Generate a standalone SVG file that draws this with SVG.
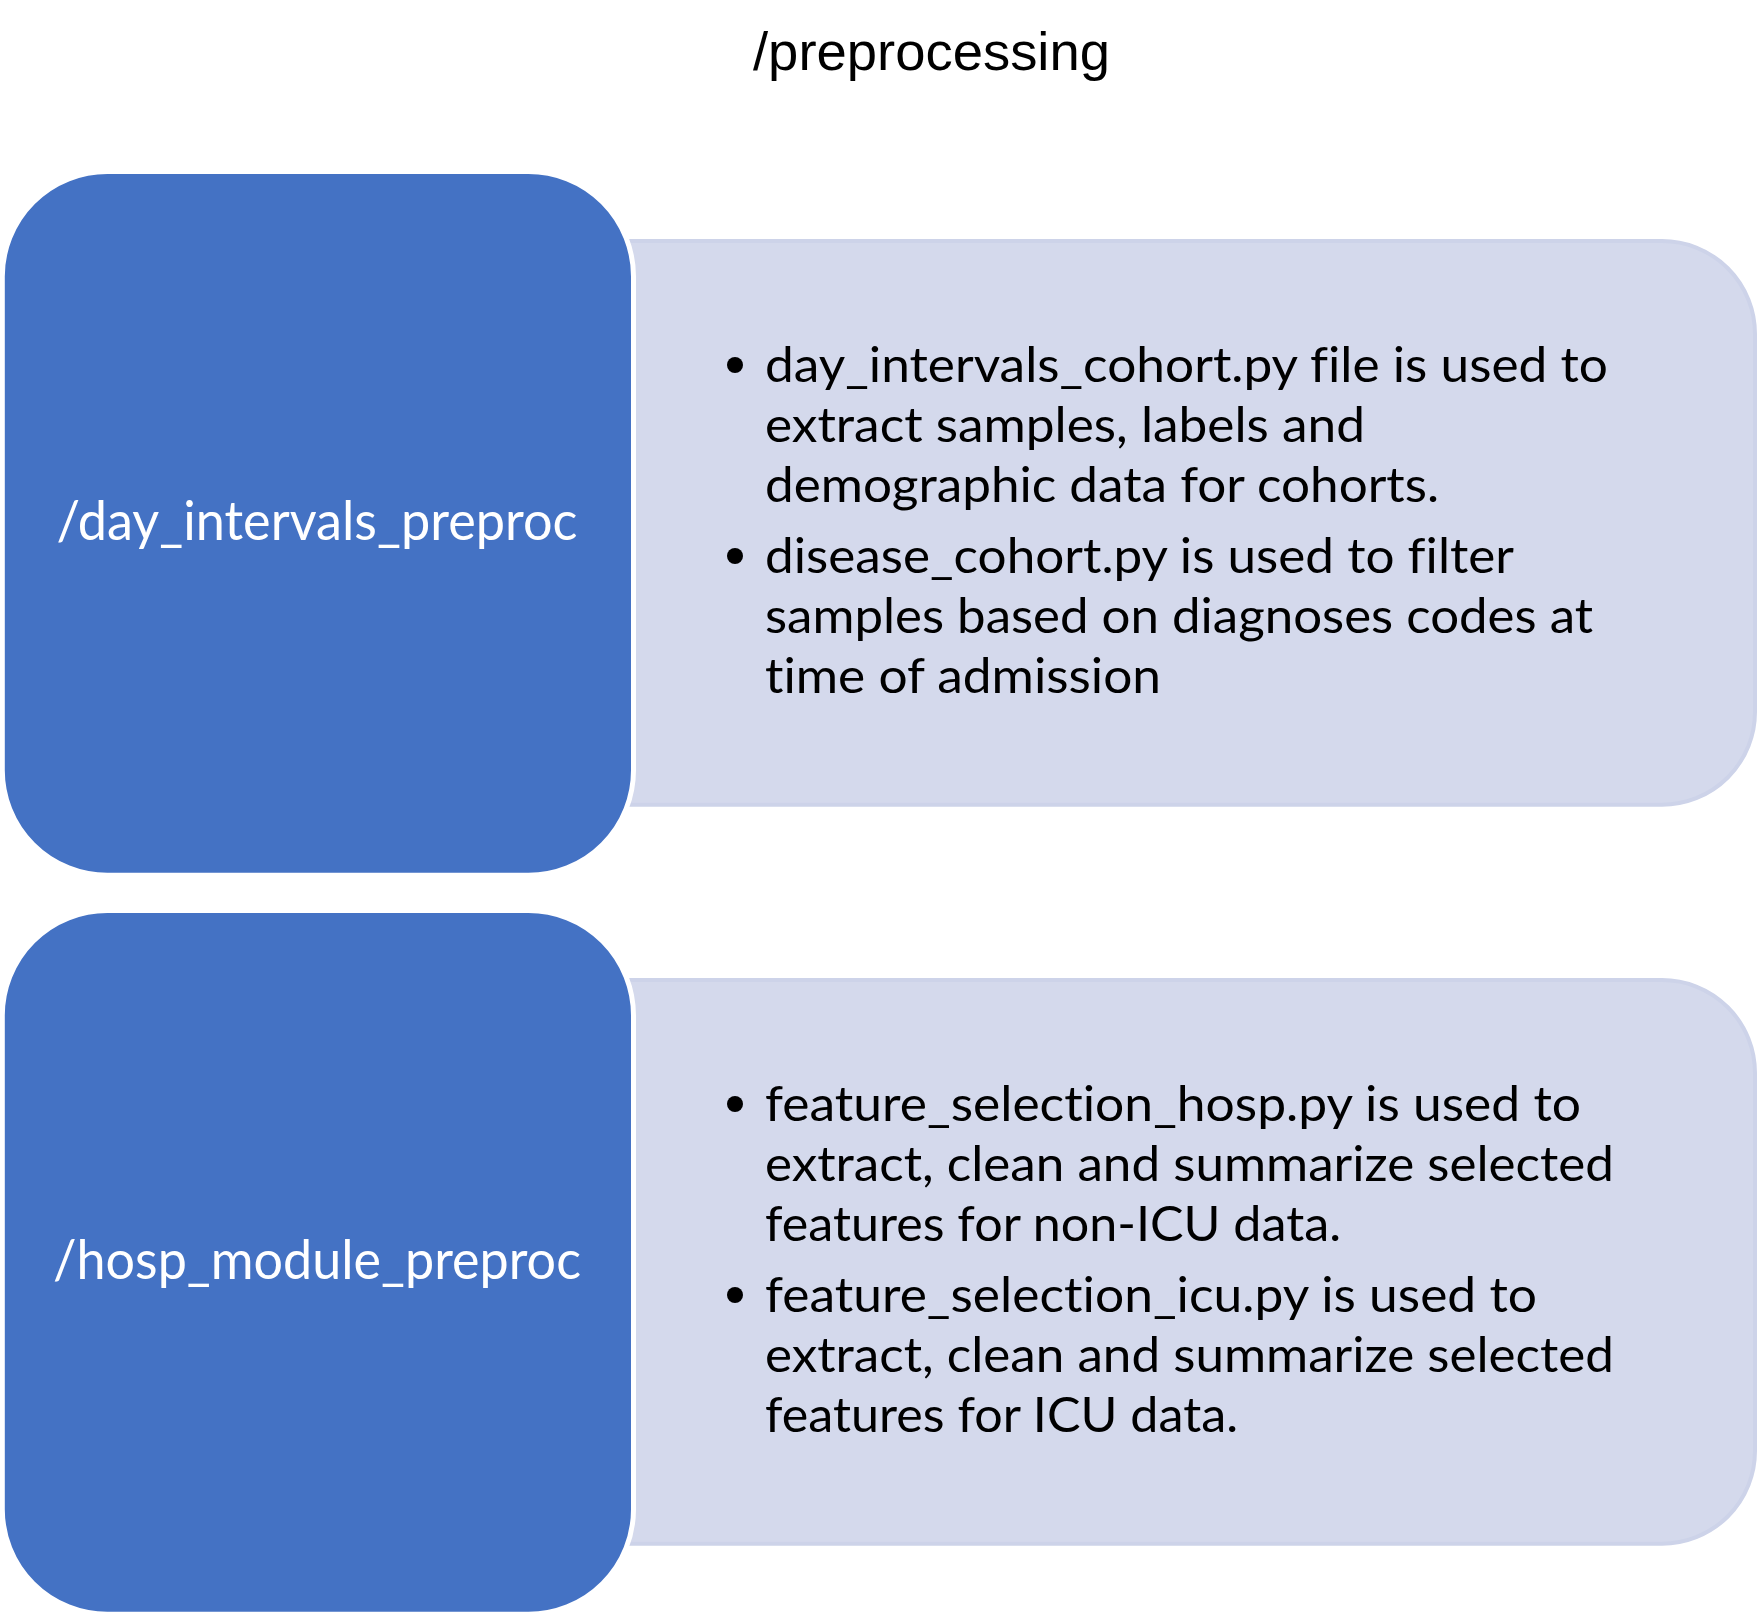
<svg xmlns="http://www.w3.org/2000/svg" width="1758" height="1617" viewBox="0 0 1758 1617">
<style>
.blue{fill:#4472C4;stroke:#FFFFFF;stroke-width:5}
.light{fill:#D4D9EC;stroke:#CDD3E9;stroke-width:4}
.lbl{font-family:Lato,"Noto Sans",sans-serif;font-size:55px;fill:#FFFFFF;font-variant-ligatures:none}
.body{font-family:Lato,"Noto Sans",sans-serif;font-size:49px;fill:#000000;font-variant-ligatures:none}
.title{font-family:"Liberation Sans",Arial,sans-serif;font-size:54px;fill:#000000}
</style>
<rect width="1758" height="1617" fill="#FFFFFF"/>
<g id="title"><text class="title" x="753" y="70" textLength="357" lengthAdjust="spacingAndGlyphs">/preprocessing</text></g>
<g id="connectors"></g>
<g id="detail1">
<path class="light" d="M620 241 H1662 A93 93 0 0 1 1755 334 V711.7 A93 93 0 0 1 1662 804.7 H620 Z"/>
<circle cx="735" cy="365" r="8"/>
<circle cx="735" cy="556" r="8"/>
<text class="body" x="765" y="382" textLength="843" lengthAdjust="spacingAndGlyphs">day_intervals_cohort.py file is used to</text>
<text class="body" x="765" y="442" textLength="600" lengthAdjust="spacingAndGlyphs">extract samples, labels and</text>
<text class="body" x="765" y="502" textLength="674" lengthAdjust="spacingAndGlyphs">demographic data for cohorts.</text>
<text class="body" x="765" y="573" textLength="749" lengthAdjust="spacingAndGlyphs">disease_cohort.py is used to filter</text>
<text class="body" x="765" y="633" textLength="828" lengthAdjust="spacingAndGlyphs">samples based on diagnoses codes at</text>
<text class="body" x="765" y="693" textLength="396" lengthAdjust="spacingAndGlyphs">time of admission</text>
</g>
<g id="node1">
<rect class="blue" x="2.3" y="171.5" width="631.2" height="703.7" rx="105" ry="105"/>
<text class="lbl" x="317" y="540" text-anchor="middle" textLength="521" lengthAdjust="spacingAndGlyphs">/day_intervals_preproc</text>
</g>
<g id="detail2">
<path class="light" d="M620 980 H1662 A93 93 0 0 1 1755 1073 V1450.7 A93 93 0 0 1 1662 1543.7 H620 Z"/>
<circle cx="735" cy="1104" r="8"/>
<circle cx="735" cy="1295" r="8"/>
<text class="body" x="765" y="1121" textLength="816" lengthAdjust="spacingAndGlyphs">feature_selection_hosp.py is used to</text>
<text class="body" x="765" y="1181" textLength="849" lengthAdjust="spacingAndGlyphs">extract, clean and summarize selected</text>
<text class="body" x="765" y="1241" textLength="576" lengthAdjust="spacingAndGlyphs">features for non-ICU data.</text>
<text class="body" x="765" y="1312" textLength="772" lengthAdjust="spacingAndGlyphs">feature_selection_icu.py is used to</text>
<text class="body" x="765" y="1372" textLength="849" lengthAdjust="spacingAndGlyphs">extract, clean and summarize selected</text>
<text class="body" x="765" y="1432" textLength="473" lengthAdjust="spacingAndGlyphs">features for ICU data.</text>
</g>
<g id="node2">
<rect class="blue" x="2.3" y="910.5" width="631.2" height="703.7" rx="105" ry="105"/>
<text class="lbl" x="317" y="1279" text-anchor="middle" textLength="528" lengthAdjust="spacingAndGlyphs">/hosp_module_preproc</text>
</g>
</svg>
